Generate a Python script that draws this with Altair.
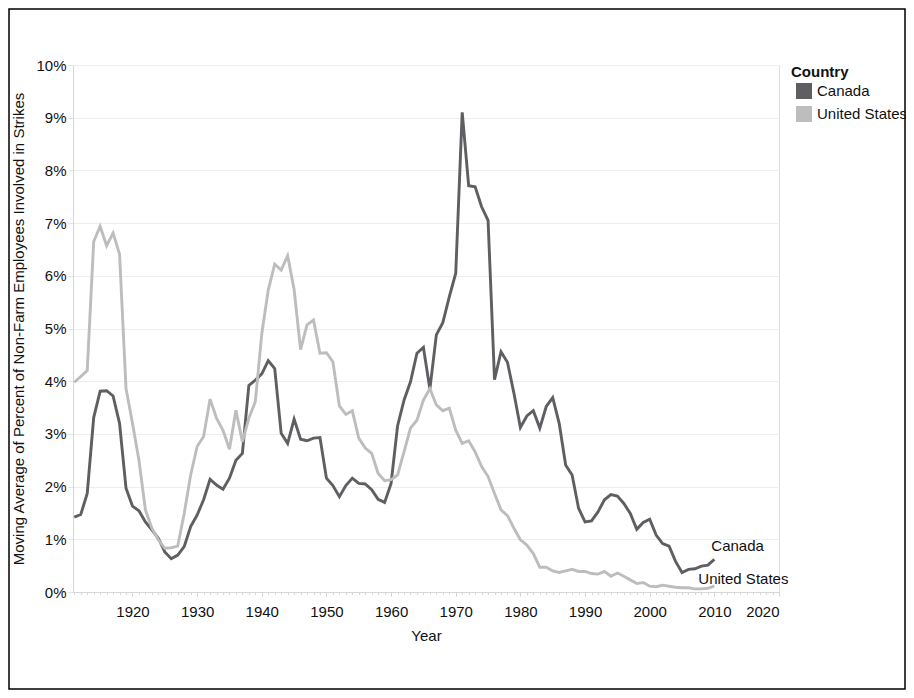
import altair as alt
import pandas as pd

years = list(range(1911, 2011))

canada = [1.42, 1.47, 1.87, 3.31, 3.81, 3.82, 3.72, 3.20, 1.97, 1.63,
          1.54, 1.33, 1.18, 1.02, 0.76, 0.63, 0.70, 0.86, 1.24, 1.46,
          1.75, 2.14, 2.03, 1.95, 2.16, 2.50, 2.63, 3.92, 4.02, 4.14,
          4.39, 4.24, 3.01, 2.82, 3.28, 2.90, 2.87, 2.92, 2.93, 2.16,
          2.02, 1.81, 2.02, 2.16, 2.06, 2.05, 1.94, 1.76, 1.70, 2.06,
          3.15, 3.64, 3.99, 4.53, 4.64, 3.85, 4.88, 5.11, 5.60, 6.05,
          9.10, 7.71, 7.69, 7.31, 7.05, 4.03, 4.56, 4.36, 3.77, 3.12,
          3.34, 3.44, 3.11, 3.52, 3.69, 3.20, 2.41, 2.22, 1.59, 1.33,
          1.35, 1.52, 1.75, 1.85, 1.82, 1.68, 1.49, 1.19, 1.32, 1.38,
          1.08, 0.92, 0.87, 0.58, 0.37, 0.43, 0.44, 0.49, 0.51, 0.62]

united_states = [3.98, 4.09, 4.20, 6.65, 6.94, 6.57, 6.81, 6.41, 3.86, 3.20,
                 2.50, 1.56, 1.21, 0.99, 0.83, 0.84, 0.87, 1.49, 2.22, 2.76,
                 2.95, 3.66, 3.30, 3.07, 2.71, 3.45, 2.85, 3.30, 3.61, 4.90,
                 5.73, 6.22, 6.11, 6.38, 5.74, 4.60, 5.07, 5.16, 4.53, 4.54,
                 4.37, 3.53, 3.37, 3.44, 2.92, 2.73, 2.63, 2.25, 2.11, 2.13,
                 2.22, 2.66, 3.11, 3.26, 3.64, 3.86, 3.55, 3.44, 3.49, 3.07,
                 2.82, 2.87, 2.66, 2.38, 2.19, 1.87, 1.56, 1.45, 1.21, 0.99,
                 0.89, 0.73, 0.47, 0.47, 0.40, 0.37, 0.40, 0.43, 0.39, 0.39,
                 0.35, 0.34, 0.39, 0.30, 0.36, 0.30, 0.23, 0.16, 0.18, 0.11,
                 0.10, 0.13, 0.11, 0.09, 0.08, 0.08, 0.06, 0.06, 0.07, 0.11]

countries = ["Canada", "United States"]
colors = ["#5f5f63", "#bdbdbd"]
decade_ticks = list(range(1920, 2030, 10))
year_ticks = list(range(1911, 2021))
pct_ticks = list(range(0, 11))

df = pd.DataFrame({
    "Year": years * 2,
    "Value": canada + united_states,
    "Country": ["Canada"] * len(years) + ["United States"] * len(years),
})

FONT = "Liberation Sans"
xscale = alt.Scale(domain=[1910.8, 2020], nice=False, zero=False)
yscale = alt.Scale(domain=[0, 10], nice=False)
cscale = alt.Scale(domain=countries, range=colors)

base = alt.Chart(df)

legend_layer = base.mark_square(size=0, filled=True, opacity=1).encode(
    x=alt.X("Year:Q", scale=xscale, axis=None),
    y=alt.Y("Value:Q", scale=yscale, axis=None),
    color=alt.Color("Country:N", scale=cscale, legend=alt.Legend(
        title="Country", orient="right", offset=12, padding=0,
        symbolType="square", symbolSize=256, symbolStrokeWidth=0,
        symbolOpacity=1,
        symbolOffset=5, labelOffset=5, rowPadding=7, titlePadding=3,
        titleFont=FONT, titleFontSize=15, titleFontWeight="bold", titleColor="#111",
        labelFont=FONT, labelFontSize=15, labelColor="#111",
    )),
)

lines = base.mark_line(strokeWidth=2.9).encode(
    x=alt.X("Year:Q", scale=xscale, title="Year", axis=alt.Axis(
        values=decade_ticks, format="d", grid=False, labelFlush=True,
        tickSize=4, tickColor="#cfcfcf", domainColor="#d6d6d6",
        labelPadding=8, labelFont=FONT, labelFontSize=15, labelColor="#111",
        titleFont=FONT, titleFontSize=15, titleFontWeight="normal",
        titleColor="#111", titlePadding=9)),
    y=alt.Y("Value:Q", scale=yscale,
            title="Moving Average of Percent of Non-Farm Employees Involved in Strikes",
            axis=alt.Axis(values=pct_ticks, labelExpr="datum.value + '%'",
                          grid=True, gridColor="#eeeeee", tickSize=5,
                          tickColor="#e2e2e2", domainColor="#d6d6d6",
                          labelPadding=2, labelFont=FONT, labelFontSize=15,
                          labelColor="#111", titleFont=FONT, titleFontSize=15,
                          titleFontWeight="normal", titleColor="#111",
                          titlePadding=9)),
    color=alt.Color("Country:N", scale=cscale, legend=None),
)

minor = base.mark_point(size=0, opacity=0).encode(
    x=alt.X("Year:Q", scale=xscale, axis=alt.Axis(
        orient="bottom", values=year_ticks, labels=False, grid=False,
        domain=False, tickSize=2.5, tickColor="#d6d6d6", title=None)),
    y=alt.Y("Value:Q", scale=yscale, axis=None),
)

last = base.transform_filter(alt.datum.Year == 2010)

label_ca = last.transform_filter(alt.datum.Country == "Canada").mark_text(
    align="left", baseline="middle", dx=-3, dy=-13, font=FONT, fontSize=15,
    color="#111").encode(
    x=alt.X("Year:Q", scale=xscale, axis=None),
    y=alt.Y("Value:Q", scale=yscale, axis=None),
    text="Country:N",
)
label_us = last.transform_filter(alt.datum.Country == "United States").mark_text(
    align="left", baseline="middle", dx=-16, dy=-7, font=FONT, fontSize=15,
    color="#111").encode(
    x=alt.X("Year:Q", scale=xscale, axis=None),
    y=alt.Y("Value:Q", scale=yscale, axis=None),
    text="Country:N",
)

frame = alt.Chart(pd.DataFrame({"f": [0]})).mark_rect(
    filled=False, stroke="#000", strokeWidth=1.5).encode(
    x=alt.value(-64), x2=alt.value(832), y=alt.value(-56), y2=alt.value(624))

chart = alt.layer(legend_layer, lines, minor, label_ca, label_us, frame).resolve_axis(
    x="independent", y="independent"
).properties(
    width=706, height=527,
    autosize=alt.AutoSizeParams(type="none"),
    padding={"left": 65, "top": 57, "right": 127, "bottom": 98},
).configure_view(stroke="#e2e2e2", strokeWidth=1).configure(background="white")

chart.save("out.html", embed_options={"renderer": "svg", "actions": False})
